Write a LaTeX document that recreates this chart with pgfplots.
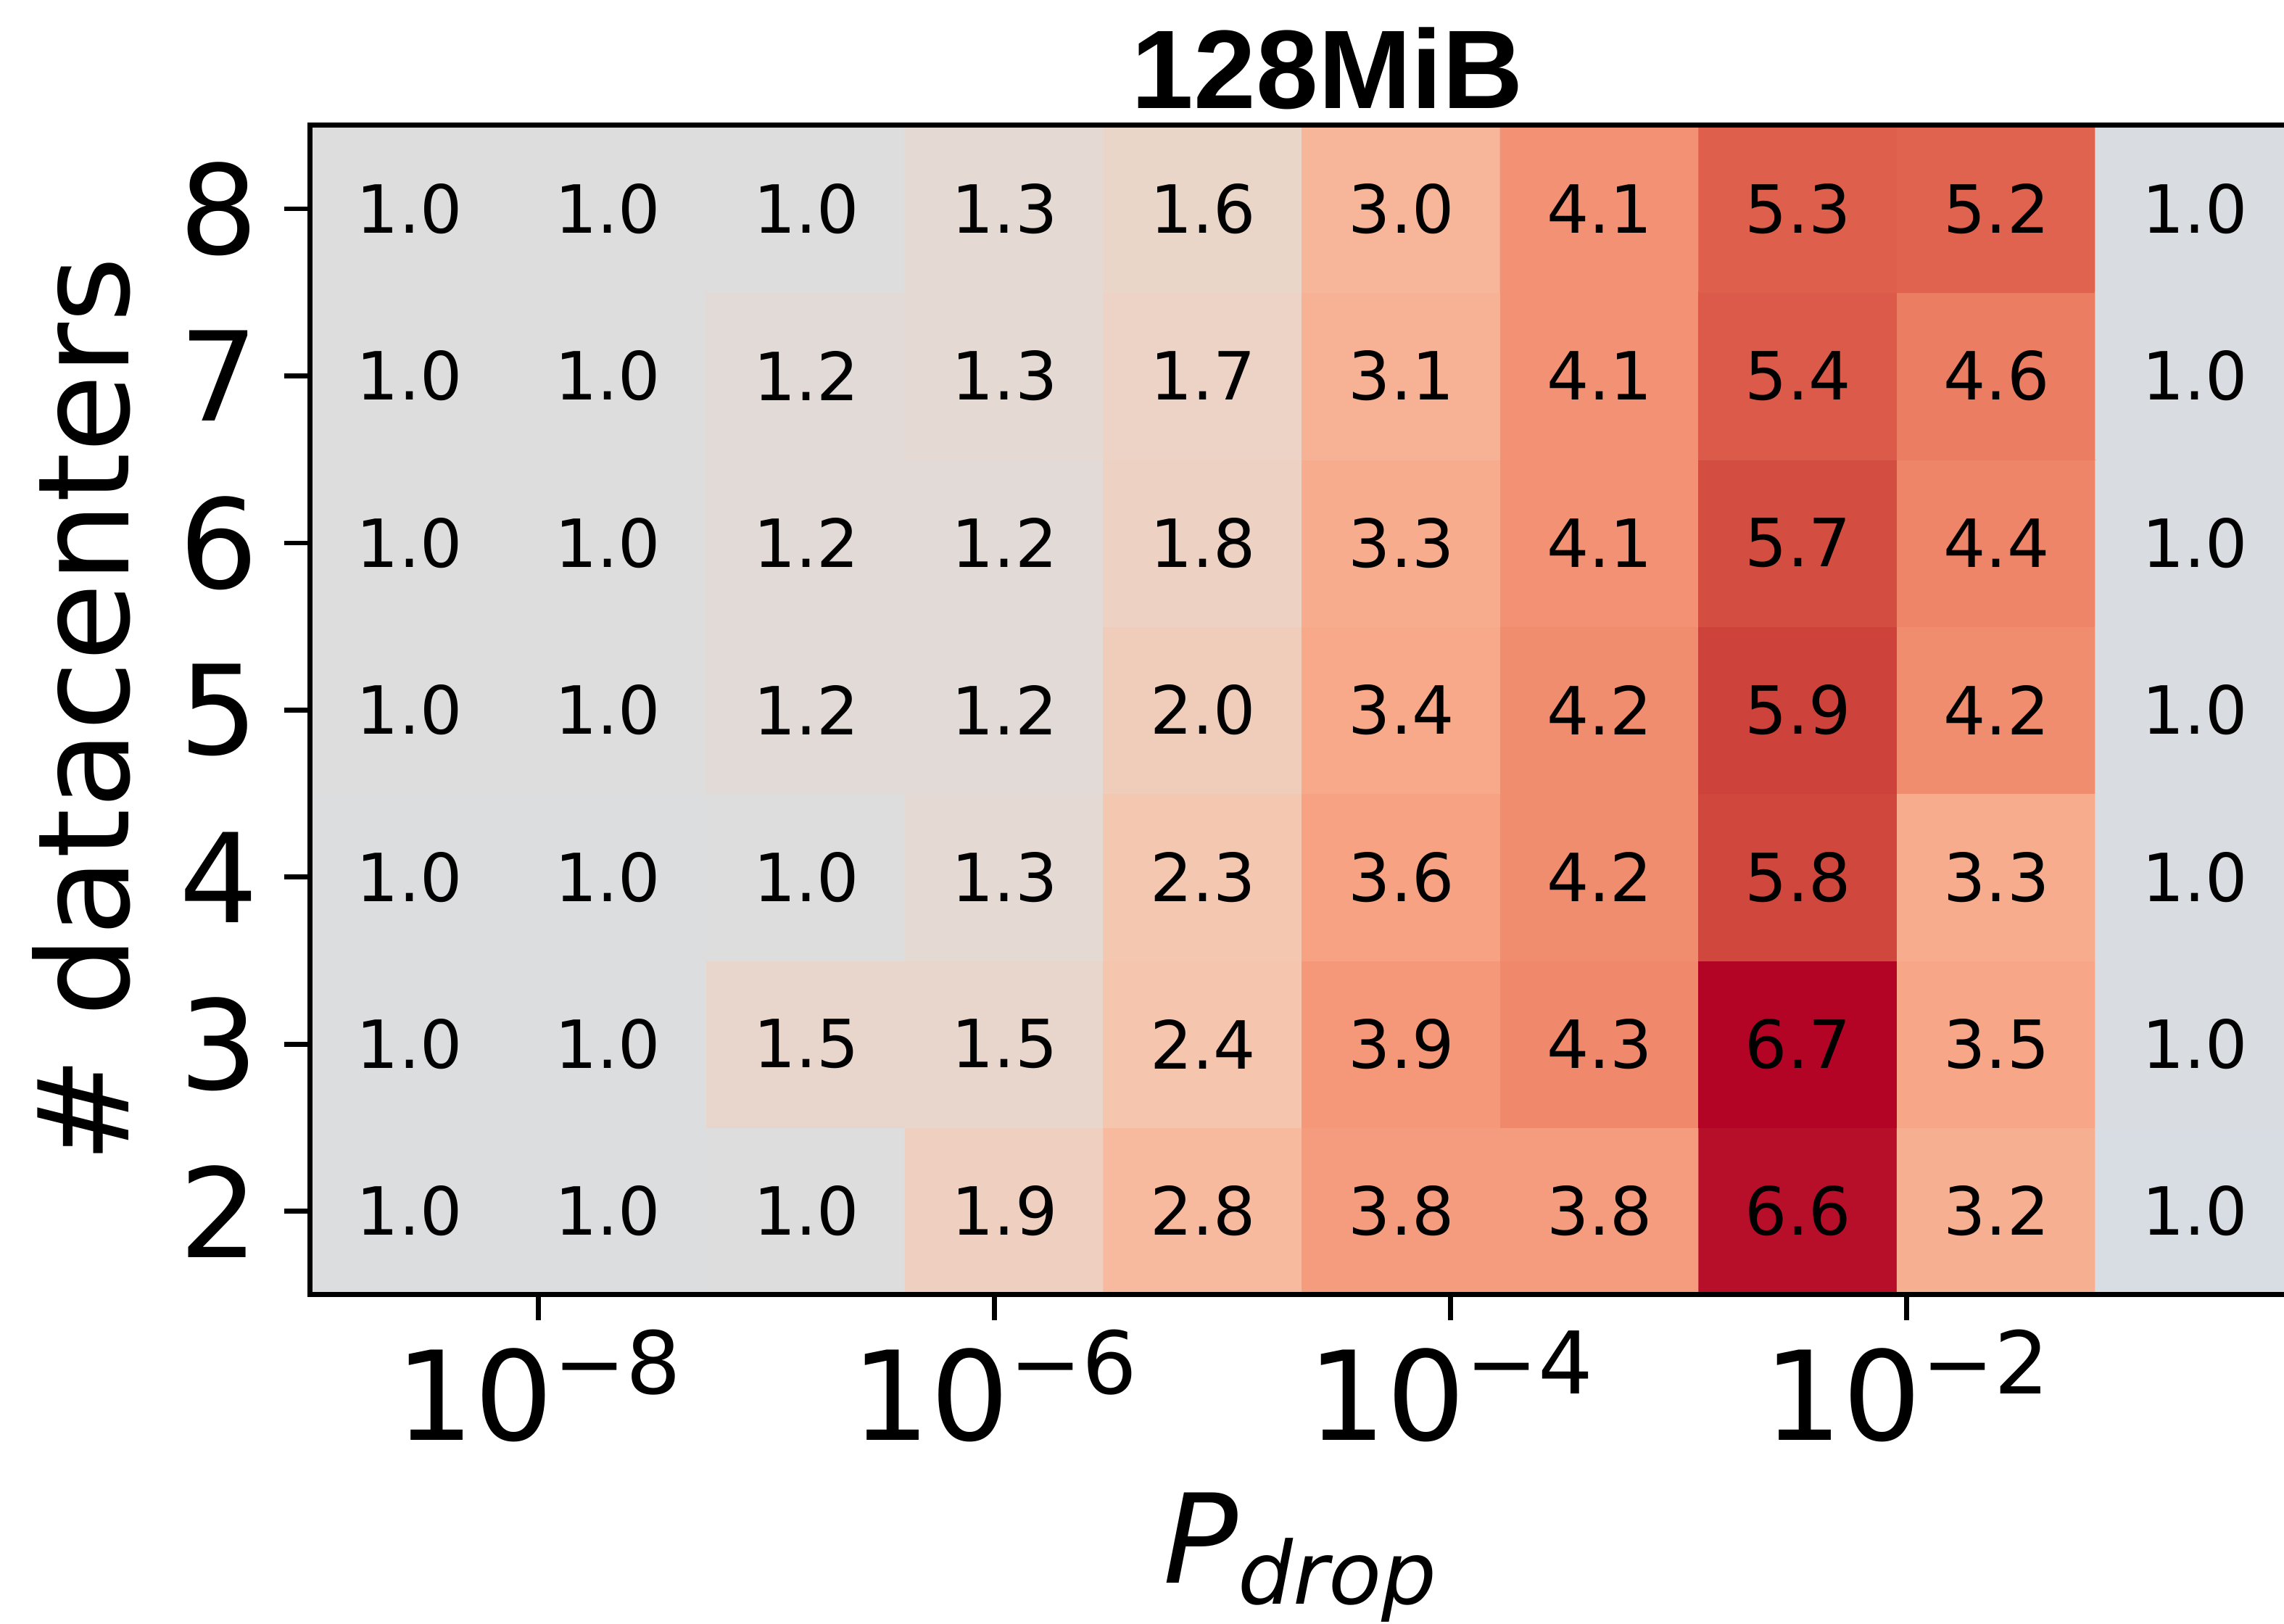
\documentclass[border=0pt]{standalone}
\usepackage{pgfplots}
\pgfplotsset{compat=1.18}
\usepackage{pgfplotstable}
\usepackage{fontspec}
\setmainfont{DejaVu Sans}
\newfontfamily\titlefont{Liberation Sans}
\newcommand\tp[1]{10\raisebox{15.4pt}{\fontsize{28.6}{30}\selectfont −#1}}

\pgfplotstableread{
x y v
-8.56495 2 0.99
-7.69505 2 0.99
-6.82515 2 1.0
-5.95526 2 1.9
-5.08536 2 2.8
-4.21546 2 3.8
-3.34557 2 3.8
-2.47567 2 6.6
-1.60577 2 3.2
-0.73588 2 0.96
-8.56495 3 0.99
-7.69505 3 0.99
-6.82515 3 1.5
-5.95526 3 1.5
-5.08536 3 2.4
-4.21546 3 3.9
-3.34557 3 4.3
-2.47567 3 6.7
-1.60577 3 3.5
-0.73588 3 0.97
-8.56495 4 0.99
-7.69505 4 0.99
-6.82515 4 1.0
-5.95526 4 1.3
-5.08536 4 2.3
-4.21546 4 3.6
-3.34557 4 4.2
-2.47567 4 5.8
-1.60577 4 3.3
-0.73588 4 0.97
-8.56495 5 1.0
-7.69505 5 1.0
-6.82515 5 1.2
-5.95526 5 1.2
-5.08536 5 2.0
-4.21546 5 3.4
-3.34557 5 4.2
-2.47567 5 5.9
-1.60577 5 4.2
-0.73588 5 0.97
-8.56495 6 1.0
-7.69505 6 1.0
-6.82515 6 1.2
-5.95526 6 1.2
-5.08536 6 1.8
-4.21546 6 3.3
-3.34557 6 4.1
-2.47567 6 5.7
-1.60577 6 4.4
-0.73588 6 0.97
-8.56495 7 1.0
-7.69505 7 1.0
-6.82515 7 1.2
-5.95526 7 1.3
-5.08536 7 1.7
-4.21546 7 3.1
-3.34557 7 4.1
-2.47567 7 5.4
-1.60577 7 4.6
-0.73588 7 0.97
-8.56495 8 1.0
-7.69505 8 1.0
-6.82515 8 1.0
-5.95526 8 1.3
-5.08536 8 1.6
-4.21546 8 3.0
-3.34557 8 4.1
-2.47567 8 5.3
-1.60577 8 5.2
-0.73588 8 0.97
}\heat

\pgfplotsset{colormap={cw}{
rgb255(0pt)=(59,76,192)
rgb255(1.25pt)=(77,104,215)
rgb255(2.5pt)=(98,130,234)
rgb255(3.75pt)=(119,154,247)
rgb255(5pt)=(141,176,254)
rgb255(6.25pt)=(163,194,255)
rgb255(7.5pt)=(184,208,249)
rgb255(8.75pt)=(204,217,238)
rgb255(9.375pt)=(213,219,230)
rgb255(10pt)=(221,221,221)
rgb255(13.5625pt)=(229,216,209)
rgb255(17.125pt)=(236,211,197)
rgb255(20.6875pt)=(241,204,185)
rgb255(24.25pt)=(245,196,173)
rgb255(27.8125pt)=(247,187,160)
rgb255(31.375pt)=(247,177,148)
rgb255(34.9375pt)=(247,166,135)
rgb255(38.5pt)=(244,154,123)
rgb255(42.0625pt)=(241,141,111)
rgb255(45.625pt)=(236,127,99)
rgb255(49.1875pt)=(229,112,88)
rgb255(52.75pt)=(222,96,77)
rgb255(56.3125pt)=(213,80,66)
rgb255(59.875pt)=(203,62,56)
rgb255(63.4375pt)=(192,40,47)
rgb255(67pt)=(180,4,38)
}}

\begin{document}
\begin{tikzpicture}
\path[use as bounding box] (-102.7pt,-109pt) rectangle (653.3pt,428.6pt);
\begin{axis}[
  name=ax,
  at={(0,0)}, anchor=south west,
  scale only axis,
  width=653.3pt, height=387.1pt,
  xmin=-9, xmax=-0.345,
  ymin=1.5, ymax=8.5,
  enlargelimits=false,
  colormap name=cw,
  point meta min=0, point meta max=6.7,
  axis line style={draw=none},
  tick pos=left,
  tick align=outside,
  major tick length=8.5pt,
  every tick/.style={black, line width=1.6pt},
  xtick={-8,-6,-4,-2},
  xticklabels={\tp{8},\tp{6},\tp{4},\tp{2}},
  ytick={2,3,4,5,6,7,8},
  yticklabels={2,3,4,5,6,7,8},
  xticklabel style={font=\fontsize{41}{45}\selectfont, anchor=base, inner sep=0pt, yshift=-39.7pt},
  yticklabel style={font=\fontsize{41}{45}\selectfont, anchor=east, inner sep=0pt, xshift=-8.4pt},
  xlabel={\itshape P\raisebox{-6.8pt}{\fontsize{28.7}{30}\selectfont drop}},
  ylabel={\# datacenters},
  every axis x label/.style={at={(rel axis cs:0.5015,0)}, anchor=base, yshift=-95.5pt, font=\fontsize{41}{45}\selectfont},
  every axis y label/.style={at={([xshift=-60.2pt]rel axis cs:0,0.5)}, anchor=base, rotate=90, font=\fontsize{42}{46}\selectfont},
  title={128MiB},
  every axis title/.style={at={(rel axis cs:0.5154,1)}, anchor=base, yshift=5.5pt, font=\titlefont\bfseries\fontsize{37}{40}\selectfont},
]
\addplot[matrix plot*, mesh/cols=10, point meta=\thisrow{v}, shader=flat corner] table[x=x, y=y] {\heat};
\addplot[draw=none, mark=none, point meta=\thisrow{v},
  /pgf/number format/assume math mode=true,
  nodes near coords={\pgfmathprintnumber[fixed, fixed zerofill, precision=1, assume math mode=true]{\pgfplotspointmeta}},
  nodes near coords align=center,
  every node near coord/.append style={font=\fontsize{22}{24}\selectfont, text=black, inner sep=0pt, anchor=center}]
  table[x=x, y=y] {\heat};
\end{axis}
\draw[line width=1.7pt, line join=miter] (ax.south east) -- (ax.south west) -- (ax.north west) -- (ax.north east);
\end{tikzpicture}
\end{document}
